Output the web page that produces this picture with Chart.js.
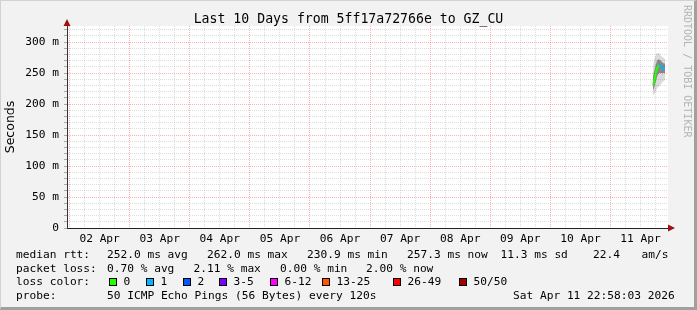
<!DOCTYPE html>
<html>
<head>
<meta charset="utf-8">
<script src="https://cdn.jsdelivr.net/npm/chart.js@4.4.1/dist/chart.umd.min.js"></script>
<style>
  html, body { margin: 0; padding: 0; background: #fff; }
  #wrap { position: relative; width: 697px; height: 310px; overflow: hidden; background: #f2f2f2; }
  #wrap canvas { position: absolute; left: 0; top: 0; }
  .frame { position: absolute; left: 0; top: 0; width: 697px; height: 310px; box-sizing: border-box;
    border-top: 1px solid #d2d2d2; border-left: 1px solid #d2d2d2;
    border-right: 3px solid #a0a0a0; border-bottom: 3px solid #a0a0a0; pointer-events: none; }
  .txt { position: absolute; font-family: 'DejaVu Sans Mono', monospace; font-size: 11.2px;
    line-height: 14px; white-space: pre; color: #000; }
  .title { position: absolute; left: 0; top: 12px; width: 697px; text-align: center;
    font-family: 'DejaVu Sans Mono', monospace; font-size: 13.2px; line-height: 14px; color: #000; }
  .mark { position: absolute; left: 682px; top: 5px; writing-mode: vertical-rl;
    font-family: 'DejaVu Sans Mono', monospace; font-size: 10px; color: #b4b4b4; }
  .box { position: absolute; width: 6px; height: 6px; border: 1px solid #000; }
</style>
</head>
<body>
<div id="wrap">
  <canvas id="my-chart" width="697" height="310"></canvas>
  <div class="title">Last 10 Days from 5ff17a72766e to GZ_CU</div>
  <div class="mark">RRDTOOL / TOBI OETIKER</div>
  <div id="legend"></div>
  <div class="frame"></div>
</div>
<script>
'use strict';

// ******* DATA ********
// hours since 02 Apr 00:00
let timeHours = [233.0, 233.4, 233.8, 234.2, 234.6, 235.0, 235.4, 235.8, 236.2, 236.6, 237.0, 237.4, 237.8];
// median rtt in ms
let medianRtt = [230.9, 237, 244, 252, 258, 261, 262, 262, 260, 259, 258, 257, 257.3];
// loss class per point (index into lossColors)
let lossIdx = [0, 0, 0, 0, 0, 0, 0, 1, 1, 1, 1, 1, 1];
// smoke bands (ms)
let smokeOuterLo = [215, 215, 218, 222, 225, 228, 228, 230, 232, 235, 236, 238, 238];
let smokeOuterHi = [262, 270, 276, 280, 282, 283, 282, 280, 278, 276, 275, 274, 272];
let smokeInnerLo = [222, 226, 232, 238, 244, 248, 250, 250, 250, 250, 250, 250, 250];
let smokeInnerHi = [245, 252, 258, 265, 270, 272, 272, 271, 269, 268, 266, 266, 265];

let dayLabels = ['02 Apr', '03 Apr', '04 Apr', '05 Apr', '06 Apr', '07 Apr', '08 Apr', '09 Apr', '10 Apr', '11 Apr'];
let yTicks = [0, 10, 20, 30, 40, 50, 60, 70, 80, 90, 100, 110, 120, 130, 140, 150, 160, 170, 180, 190,
  200, 210, 220, 230, 240, 250, 260, 270, 280, 290, 300, 310, 320];
let xTicks = [];
for (let h = 0; h < 240; h += 6) { xTicks.push(h); }

let lossLabels = ['0', '1', '2', '3-5', '6-12', '13-25', '26-49', '50/50'];
let lossColors = ['#26ff00', '#00b8ff', '#0059ff', '#7e00ff', '#ff00ff', '#ff5500', '#ff0000', '#a10000'];

let rttStats = ['252.0 ms avg', '262.0 ms max', '230.9 ms min', '257.3 ms now', '11.3 ms sd', '22.4', 'am/s'];
let lossStats = ['0.70 % avg', '2.11 % max', '0.00 % min', '2.00 % now'];
let probeText = '50 ICMP Echo Pings (56 Bytes) every 120s';
let dateText = 'Sat Apr 11 22:58:03 2026';

// ******* LEGEND (html text) ********
let legend = document.getElementById('legend');
function addText(x, yc, str) {
  let el = document.createElement('div');
  el.className = 'txt';
  el.style.left = x + 'px';
  el.style.top = (yc - 7) + 'px';
  el.textContent = str;
  legend.appendChild(el);
}
let rttX = [107, 207, 307, 407, 500.5, 593, 641.5];
let lossX = [107, 193.5, 280, 366];
addText(16, 255, 'median rtt:');
rttStats.forEach((s, i) => addText(rttX[i], 255, s));
addText(16, 268.5, 'packet loss:');
lossStats.forEach((s, i) => addText(lossX[i], 268.5, s));
addText(16, 282, 'loss color:');
let boxX = [109, 146, 183, 219, 270, 322, 393, 459];
lossLabels.forEach((s, i) => {
  let b = document.createElement('div');
  b.className = 'box';
  b.style.left = boxX[i] + 'px';
  b.style.top = '278px';
  b.style.background = lossColors[i];
  legend.appendChild(b);
  addText(boxX[i] + 14.5, 282, s);
});
addText(16, 296, 'probe:');
addText(107, 296, probeText);
addText(513, 296, dateText);

// ******* CHART ********
let ctx = document.getElementById('my-chart');

let plotBg = {
  id: 'plotBg',
  beforeDraw(chart) {
    let a = chart.chartArea;
    let c = chart.ctx;
    c.save();
    c.fillStyle = '#ffffff';
    c.fillRect(a.left, a.top, a.right - a.left, a.bottom - a.top);
    c.restore();
  },
  afterDraw(chart) {
    let a = chart.chartArea;
    let c = chart.ctx;
    c.save();
    c.fillStyle = '#a01010';
    // y arrow
    c.beginPath();
    c.moveTo(a.left - 3.5, a.top);
    c.lineTo(a.left + 3.5, a.top);
    c.lineTo(a.left, a.top - 7);
    c.closePath();
    c.fill();
    // x arrow
    c.beginPath();
    c.moveTo(a.right, a.bottom - 3.5);
    c.lineTo(a.right, a.bottom + 3.5);
    c.lineTo(a.right + 7, a.bottom);
    c.closePath();
    c.fill();
    c.restore();
  }
};

let mono = { family: "'DejaVu Sans Mono', monospace", size: 11.2 };

let chartObj = {
  type: 'line',
  data: {
    datasets: [
      {
        label: 'median',
        data: timeHours.map((t, i) => ({ x: t, y: medianRtt[i] })),
        borderWidth: 2,
        pointRadius: 0,
        fill: false,
        order: 0,
        segment: { borderColor: c => lossColors[lossIdx[c.p1DataIndex]] },
        borderColor: lossColors[0]
      },
      {
        label: 'inner hi',
        data: timeHours.map((t, i) => ({ x: t, y: smokeInnerHi[i] })),
        borderWidth: 0, pointRadius: 0, fill: '+1', order: 1,
        backgroundColor: 'rgba(0,0,0,0.38)', borderColor: 'rgba(0,0,0,0)'
      },
      {
        label: 'inner lo',
        data: timeHours.map((t, i) => ({ x: t, y: smokeInnerLo[i] })),
        borderWidth: 0, pointRadius: 0, fill: false, order: 1, borderColor: 'rgba(0,0,0,0)'
      },
      {
        label: 'outer hi',
        data: timeHours.map((t, i) => ({ x: t, y: smokeOuterHi[i] })),
        borderWidth: 0, pointRadius: 0, fill: '+1', order: 2,
        backgroundColor: 'rgba(0,0,0,0.14)', borderColor: 'rgba(0,0,0,0)'
      },
      {
        label: 'outer lo',
        data: timeHours.map((t, i) => ({ x: t, y: smokeOuterLo[i] })),
        borderWidth: 0, pointRadius: 0, fill: false, order: 2, borderColor: 'rgba(0,0,0,0)'
      }
    ]
  },
  options: {
    responsive: false,
    animation: false,
    devicePixelRatio: 1,
    layout: { padding: { left: 0, top: 26, right: 29, bottom: 60 } },
    plugins: { legend: { display: false }, tooltip: { enabled: false } },
    scales: {
      x: {
        type: 'linear',
        min: -1.03,
        max: 238.97,
        afterBuildTicks: s => { s.ticks = xTicks.map(v => ({ value: v })); },
        afterFit: s => { s.height = 22; },
        grid: {
          color: c => (c.tick && c.tick.value % 24 === 0) ? 'rgba(255,0,0,0.3)' : 'rgba(120,120,120,0.25)',
          drawTicks: false
        },
        border: { display: true, color: '#222', width: 1, dash: [1, 1] },
        ticks: {
          autoSkip: false,
          maxRotation: 0,
          padding: 4,
          color: '#000',
          font: mono,
          callback: v => (v % 24 === 12) ? dayLabels[(v - 12) / 24] : ''
        }
      },
      y: {
        type: 'linear',
        min: 0,
        max: 326,
        afterBuildTicks: s => { s.ticks = yTicks.map(v => ({ value: v })); },
        afterFit: s => { s.width = 67; },
        grid: {
          color: c => (c.tick && c.tick.value % 50 === 0) ? 'rgba(255,0,0,0.3)' : 'rgba(120,120,120,0.25)',
          tickLength: 3,
          tickColor: '#aaa',
          tickBorderDash: []
        },
        border: { display: true, color: '#333', width: 1, dash: [1, 1] },
        title: {
          display: true,
          text: 'Seconds',
          color: '#000',
          font: { family: "'DejaVu Sans', sans-serif", size: 12.5 },
          padding: { top: 3.5, bottom: 0 }
        },
        ticks: {
          autoSkip: false,
          padding: 5,
          color: '#000',
          font: mono,
          callback: v => (v === 0) ? '0' : (v % 50 === 0 ? `${v} m` : '')
        }
      }
    }
  },
  plugins: [plotBg]
};

new Chart(ctx, chartObj); //eslint-disable-line
</script>
</body>
</html>
